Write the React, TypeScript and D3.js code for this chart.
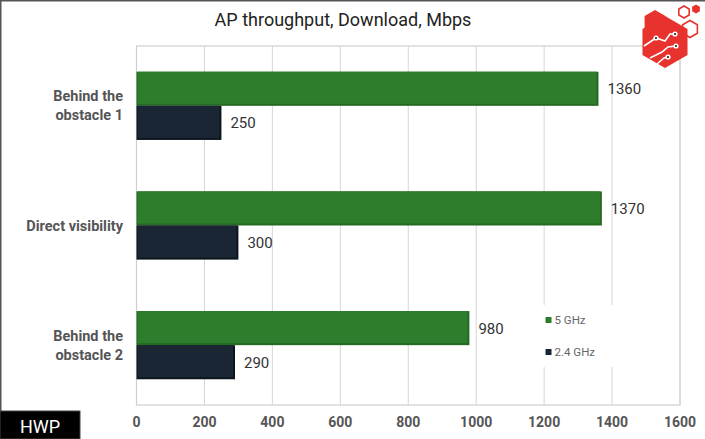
import React from "react";
import * as d3 from "d3";

const categories = ["Behind the obstacle 1", "Direct visibility", "Behind the obstacle 2"];
const categoryLines = [["Behind the", "obstacle 1"], ["Direct visibility"], ["Behind the", "obstacle 2"]];
const seriesNames = ["5 GHz", "2.4 GHz"];
const values5GHz = [1360, 1370, 980];
const values24GHz = [250, 300, 290];
const xTicks = [0, 200, 400, 600, 800, 1000, 1200, 1400, 1600];

const W = 705;
const H = 439;
const margin = { top: 46, right: 25, bottom: 34, left: 136.5 };
const colors = ["#2e7d2c", "#1a2633"];
const shadows = ["#246a22", "#0d151d"];
const font = "Roboto, 'Noto Sans', sans-serif";

const App: React.FC = () => {
	const innerW = W - margin.left - margin.right;
	const innerH = H - margin.top - margin.bottom;

	const x = d3.scaleLinear().domain([0, 1600]).range([margin.left, margin.left + innerW]);
	const y = d3
		.scaleBand<string>()
		.domain(categories)
		.range([margin.top, margin.top + innerH])
		.paddingInner(0.43)
		.paddingOuter(0.215);
	const ySub = d3.scaleBand<string>().domain(seriesNames).range([0, y.bandwidth()]);

	const series = [values5GHz, values24GHz];

	// hexagon helper for the logo (rot = PI/6 gives pointy top)
	const hex = (cx: number, cy: number, r: number, rot = Math.PI / 6) =>
		d3.range(6).map((i) => {
			const a = (Math.PI / 3) * i + rot;
			return `${cx + r * Math.cos(a)},${cy + r * Math.sin(a)}`;
		}).join(" ");

	return (
		<svg width={W} height={H} style={{ position: "absolute", left: 0, top: 0, background: "#fff" }} fontFamily={font}>
			<rect x={0.5} y={0.5} width={W + 2} height={H + 2} fill="#fff" stroke="#555" strokeWidth={2} />

			<text x={343} y={26} textAnchor="middle" fontSize={18} fill="#222">
				AP throughput, Download, Mbps
			</text>

			{/* grid */}
			{xTicks.map((t) => (
				<line key={t} x1={x(t)} x2={x(t)} y1={margin.top} y2={margin.top + innerH} stroke="#d6d6d6" strokeWidth={1} />
			))}
			<rect x={margin.left} y={margin.top} width={innerW} height={innerH} fill="none" stroke="#cfcfcf" strokeWidth={1.2} />

			{/* legend background */}
			<rect x={540} y={305} width={75} height={62} fill="#fff" />
			{seriesNames.map((s, i) => (
				<g key={s} transform={`translate(545.5, ${317 + i * 32})`}>
					<rect width={6} height={6} fill={colors[i]} />
					<text x={9} y={7} fontSize={11.5} fill="#666">
						{s}
					</text>
				</g>
			))}

			{/* bars */}
			{categories.map((c, ci) => (
				<g key={c} transform={`translate(0, ${y(c)})`}>
					{series.map((vals, si) => {
						const by = ySub(seriesNames[si]) || 0;
						const bw = x(vals[ci]) - x(0);
						const bh = ySub.bandwidth();
						return (
							<g key={si}>
								<rect x={x(0)} y={by} width={bw} height={bh} fill={shadows[si]} />
								<rect x={x(0) + 1} y={by} width={bw - 3} height={bh - 2} fill={colors[si]} />
								<text x={x(vals[ci]) + 9} y={by + bh / 2 + 5.5} fontSize={15} fill="#333">
									{vals[ci]}
								</text>
							</g>
						);
					})}
				</g>
			))}

			{/* category labels */}
			{categories.map((c, ci) => {
				const lines = categoryLines[ci];
				const cy = (y(c) || 0) + y.bandwidth() / 2;
				const start = cy + 5 - ((lines.length - 1) * 19) / 2;
				return (
					<text key={c} textAnchor="end" fontSize={14.5} fontWeight="bold" fill="#555">
						{lines.map((l, li) => (
							<tspan key={li} x={123} y={start + li * 19}>
								{l}
							</tspan>
						))}
					</text>
				);
			})}

			{/* x tick labels */}
			{xTicks.map((t) => (
				<text key={t} x={x(t)} y={427} textAnchor="middle" fontSize={14} fontWeight="bold" fill="#555">
					{t}
				</text>
			))}

			{/* HWP tag */}
			<rect x={0} y={411} width={80} height={28} fill="#000" />
			<rect x={0} y={411} width={80} height={28} fill="none" stroke="#444" strokeWidth={1} />
			<text x={40} y={433} textAnchor="middle" fontSize={18} fill="#fff">
				HWP
			</text>

			{/* logo */}
			<g>
				<polygon points={hex(665, 42, 26)} fill="#e8322e" />
				<polygon points={hex(655, 22, 12)} fill="#e8322e" />
				<polygon points={hex(684, 12, 6)} fill="none" stroke="#e8322e" strokeWidth={1.6} />
				<polygon points={hex(696, 9, 4.5)} fill="#e8322e" />
				<polygon points={hex(690, 29, 8.5)} fill="none" stroke="#e8322e" strokeWidth={1.6} />
				<g stroke="#fff" strokeWidth={1.6} fill="none">
					<polyline points="644,46 656,38 665,41 670,34 675,34" />
					<polyline points="650,58 662,52 668,47 676,46" />
					<polyline points="657,64 664,58 668,57" />
				</g>
				<g fill="#fff">
					<circle cx={656} cy={38} r={2.6} />
					<circle cx={675} cy={34} r={2.6} />
					<circle cx={676} cy={46} r={2.6} />
					<circle cx={668} cy={57} r={2.6} />
				</g>
				<g fill="#222">
					<circle cx={656} cy={38} r={1.1} />
					<circle cx={675} cy={34} r={1.1} />
					<circle cx={676} cy={46} r={1.1} />
					<circle cx={668} cy={57} r={1.1} />
				</g>
			</g>
		</svg>
	);
};

export default App;
